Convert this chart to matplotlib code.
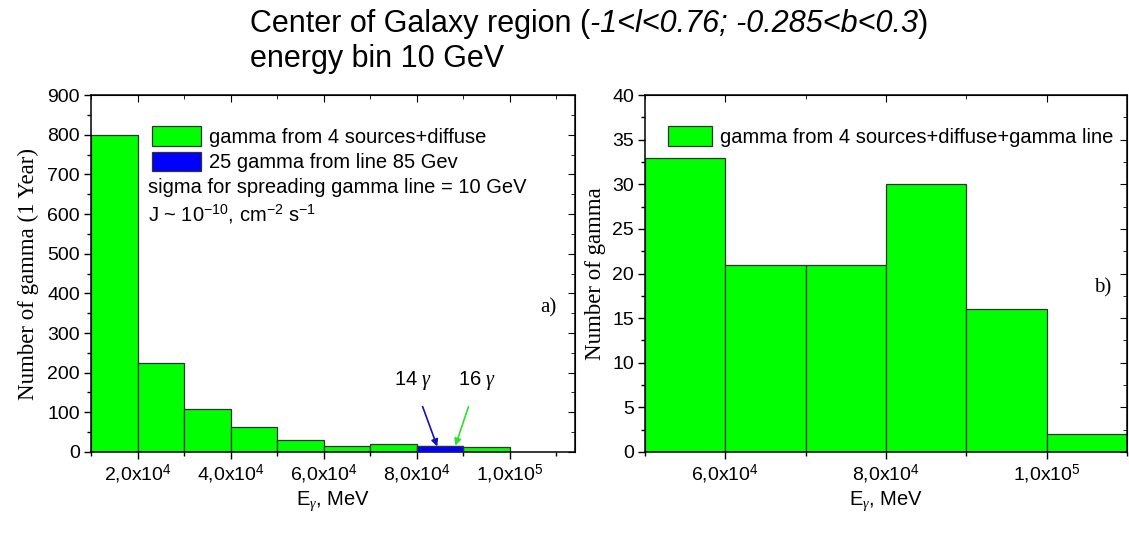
import matplotlib
matplotlib.use("Agg")
import matplotlib.pyplot as plt
from matplotlib.ticker import MultipleLocator, FixedLocator, NullFormatter
import numpy as np

plt.rcParams['font.family'] = ['Liberation Sans', 'DejaVu Sans']
plt.rcParams['mathtext.fontset'] = 'custom'
plt.rcParams['mathtext.rm'] = 'Liberation Sans'
plt.rcParams['mathtext.it'] = 'Liberation Serif:italic'

# ---- data ----
# left panel, bins of 10 GeV (MeV units)
left_edges = [1e4, 2e4, 3e4, 4e4, 5e4, 6e4, 7e4, 8e4, 9e4]
left_green = [800, 224, 109, 63, 31, 16, 19, 16, 12]
blue_edges = [6e4, 8e4]
blue_line = [1, 14]
left_ticks = [2e4, 4e4, 6e4, 8e4, 1e5]
left_ticklabels = ['2,0x10$^{4}$', '4,0x10$^{4}$', '6,0x10$^{4}$', '8,0x10$^{4}$', '1,0x10$^{5}$']

# right panel
right_edges = [5e4, 6e4, 7e4, 8e4, 9e4, 1e5]
right_green = [33, 21, 21, 30, 16, 2]
right_ticks = [6e4, 8e4, 1e5]
right_ticklabels = ['6,0x10$^{4}$', '8,0x10$^{4}$', '1,0x10$^{5}$']

bin_w = 1e4
green = '#00ff00'
blue = '#0000ff'
edge = '#333333'
fs = 14
fs_leg = 14.5

fig = plt.figure(figsize=(11.29, 5.40), dpi=100)
ax1 = fig.add_axes([0.0806, 0.163, 0.4287, 0.661])
ax2 = fig.add_axes([0.5713, 0.163, 0.4270, 0.661])


def style_axes(ax, xlim, ylim, ymaj, ymin, ticks, labels):
    ax.set_xlim(*xlim)
    ax.set_ylim(*ylim)
    ax.xaxis.set_major_locator(FixedLocator(ticks))
    ax.set_xticklabels(labels)
    ax.xaxis.set_minor_locator(MultipleLocator(1e4))
    ax.yaxis.set_major_locator(MultipleLocator(ymaj))
    ax.yaxis.set_minor_locator(MultipleLocator(ymin))
    ax.tick_params(which='both', direction='out', labelsize=fs, width=1)
    ax.tick_params(which='major', length=5)
    ax.tick_params(which='minor', length=3)
    ax.tick_params(axis='x', pad=3)
    ax.tick_params(axis='y', pad=3)
    for s in ax.spines.values():
        s.set_linewidth(1.1)
    # top / right ticks pointing inside
    top = ax.secondary_xaxis('top')
    top.xaxis.set_major_locator(FixedLocator(ticks))
    top.xaxis.set_minor_locator(MultipleLocator(1e4))
    top.xaxis.set_major_formatter(NullFormatter())
    top.tick_params(which='both', direction='in')
    top.tick_params(which='major', length=5)
    top.tick_params(which='minor', length=3)
    right = ax.secondary_yaxis('right')
    right.yaxis.set_major_locator(MultipleLocator(ymaj))
    right.yaxis.set_minor_locator(MultipleLocator(ymin))
    right.yaxis.set_major_formatter(NullFormatter())
    right.tick_params(which='both', direction='in')
    right.tick_params(which='major', length=5)
    right.tick_params(which='minor', length=3)


# ---- left panel ----
ax1.bar(left_edges, left_green, width=bin_w, align='edge', color=green,
        edgecolor=edge, linewidth=0.9, label='gamma from 4 sources+diffuse', zorder=2)
ax1.bar(blue_edges, blue_line, width=bin_w, align='edge', color=blue,
        edgecolor=edge, linewidth=0.9, label='25 gamma from line 85 Gev', zorder=3)
style_axes(ax1, (1e4, 1.14e5), (0, 900), 100, 50, left_ticks, left_ticklabels)
ax1.set_ylabel('Number of gamma (1 Year)', family='Liberation Serif', fontsize=16.5, labelpad=6)
ax1.set_xlabel(r'E$_\gamma$, MeV', fontsize=14.5, labelpad=2)

leg1 = ax1.legend(loc='upper left', bbox_to_anchor=(0.11, 0.935), frameon=False,
                  fontsize=fs_leg, handlelength=2.4, handleheight=1.1,
                  handletextpad=0.4, labelspacing=0.25, borderaxespad=0)
ax1.text(0.117, 0.74, 'sigma for spreading gamma line = 10 GeV', transform=ax1.transAxes,
         fontsize=fs_leg, va='center')
ax1.text(0.117, 0.665, r'J ~ 10$^{-10}$, cm$^{-2}$ s$^{-1}$', transform=ax1.transAxes,
         fontsize=fs_leg, va='center')
ax1.text(0.945, 0.405, 'a)', transform=ax1.transAxes, family='Liberation Serif',
         fontsize=15, ha='center', va='center')

ax1.annotate(r'14 $\gamma$', xy=(8.44e4, 14), xytext=(7.92e4, 180), fontsize=14.5,
             ha='center', va='center',
             arrowprops=dict(arrowstyle='-|>', color='#1010c0', lw=1.2,
                             shrinkA=9, shrinkB=0, mutation_scale=10))
ax1.annotate(r'16 $\gamma$', xy=(8.83e4, 16), xytext=(9.3e4, 180), fontsize=14.5,
             ha='center', va='center',
             arrowprops=dict(arrowstyle='-|>', color='#30e030', lw=1.2,
                             shrinkA=9, shrinkB=0, mutation_scale=10))

# ---- right panel ----
ax2.bar(right_edges, right_green, width=bin_w, align='edge', color=green,
        edgecolor=edge, linewidth=0.9, label='gamma from 4 sources+diffuse+gamma line')
style_axes(ax2, (5e4, 1.1e5), (0, 40), 5, 2.5, right_ticks, right_ticklabels)
ax2.set_ylabel('Number of gamma', family='Liberation Serif', fontsize=16.5, labelpad=4)
ax2.set_xlabel(r'E$_\gamma$, MeV', fontsize=14.5, labelpad=2)
ax2.legend(loc='upper left', bbox_to_anchor=(0.03, 0.935), frameon=False,
           fontsize=fs_leg, handlelength=2.2, handleheight=1.1,
           handletextpad=0.4, borderaxespad=0)
ax2.text(0.95, 0.46, 'b)', transform=ax2.transAxes, family='Liberation Serif',
         fontsize=15, ha='center', va='center')

# ---- title with italic part ----
renderer = fig.canvas.get_renderer()
title_parts = [('Center of Galaxy region (', 'normal'),
               ('-1<l<0.76; -0.285<b<0.3', 'italic'),
               (')', 'normal')]
x = 250 / 1129
y_line1 = 1 - 32 / 540
for txt, style in title_parts:
    t = fig.text(x, y_line1, txt, fontsize=22, fontstyle=style, va='baseline', ha='left')
    bb = t.get_window_extent(renderer)
    x = bb.x1 / fig.bbox.width
fig.text(250 / 1129, 1 - 67 / 540, 'energy bin 10 GeV', fontsize=22, va='baseline', ha='left')

fig.savefig('out.png', dpi=100)
